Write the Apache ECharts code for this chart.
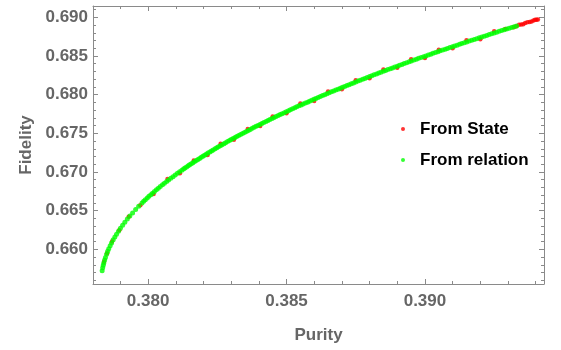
<!DOCTYPE html>
<html>
<head>
<meta charset="utf-8">
<script src="https://cdn.jsdelivr.net/npm/echarts@6/dist/echarts.min.js"></script>
<style>html,body{margin:0;padding:0;background:#fff}#c{width:561px;height:350px}</style>
</head>
<body>
<div id="c"></div>
<script>
// Series: From State (red)
const fromState = [
[0.37841,0.65840],[0.37852,0.65948],[0.37870,0.66102],[0.37896,0.66246],[0.37930,0.66420],[0.37972,0.66571],
[0.38020,0.66717],[0.38070,0.66908],[0.38115,0.66984],[0.38165,0.67150],[0.38215,0.67220],[0.38262,0.67364],
[0.38310,0.67417],[0.38360,0.67556],[0.38405,0.67595],[0.38450,0.67718],[0.38500,0.67759],[0.38550,0.67884],
[0.38600,0.67919],[0.38650,0.68040],[0.38700,0.68070],[0.38750,0.68186],[0.38800,0.68212],[0.38850,0.68324],
[0.38900,0.68347],[0.38950,0.68456],[0.39000,0.68475],[0.39050,0.68582],[0.39100,0.68599],[0.39150,0.68702],
[0.39200,0.68717],[0.39250,0.68819],[0.39290,0.68850],[0.39320,0.68870],[0.39330,0.68885],[0.39340,0.68904],
[0.39348,0.68908],[0.39355,0.68910],[0.39362,0.68925],[0.39370,0.68937],[0.39378,0.68938],[0.39385,0.68944],
[0.39392,0.68957],[0.39398,0.68968],[0.39403,0.68967],[0.39408,0.68972]
];
// Series: From relation (green)
const fromRelation = [
[0.37834,0.65724],[0.37836,0.65763],[0.37838,0.65795],[0.37840,0.65824],[0.37843,0.65862],[0.37846,0.65896],
[0.37850,0.65937],[0.37854,0.65974],[0.37858,0.66008],[0.37863,0.66047],[0.37868,0.66083],[0.37874,0.66123],
[0.37880,0.66161],[0.37886,0.66196],[0.37893,0.66235],[0.37900,0.66272],[0.37908,0.66313],[0.37916,0.66351],
[0.37925,0.66391],[0.37934,0.66430],[0.37944,0.66471],[0.37955,0.66515],[0.37966,0.66556],[0.37978,0.66600],
[0.37984,0.66621],[0.37990,0.66641],[0.37997,0.66663],[0.38003,0.66685],[0.38010,0.66706],[0.38016,0.66726],
[0.38023,0.66748],[0.38030,0.66770],[0.38037,0.66791],[0.38044,0.66812],[0.38052,0.66834],[0.38059,0.66855],
[0.38067,0.66876],[0.38074,0.66897],[0.38082,0.66919],[0.38090,0.66940],[0.38098,0.66962],[0.38106,0.66983],
[0.38114,0.67004],[0.38122,0.67024],[0.38128,0.67038],[0.38133,0.67052],[0.38139,0.67066],[0.38145,0.67080],
[0.38150,0.67093],[0.38156,0.67107],[0.38162,0.67121],[0.38168,0.67135],[0.38174,0.67149],[0.38180,0.67163],
[0.38186,0.67176],[0.38192,0.67190],[0.38198,0.67203],[0.38204,0.67217],[0.38210,0.67230],[0.38216,0.67244],
[0.38223,0.67258],[0.38229,0.67272],[0.38235,0.67285],[0.38242,0.67299],[0.38248,0.67312],[0.38254,0.67325],
[0.38261,0.67339],[0.38267,0.67352],[0.38274,0.67366],[0.38280,0.67379],[0.38287,0.67393],[0.38294,0.67406],
[0.38300,0.67420],[0.38307,0.67433],[0.38314,0.67446],[0.38320,0.67459],[0.38327,0.67472],[0.38334,0.67485],
[0.38341,0.67499],[0.38348,0.67512],[0.38355,0.67525],[0.38362,0.67538],[0.38369,0.67551],[0.38376,0.67564],
[0.38383,0.67577],[0.38390,0.67590],[0.38397,0.67602],[0.38404,0.67615],[0.38411,0.67627],[0.38418,0.67640],
[0.38426,0.67653],[0.38433,0.67666],[0.38440,0.67679],[0.38448,0.67692],[0.38455,0.67705],[0.38462,0.67717],
[0.38470,0.67730],[0.38477,0.67742],[0.38484,0.67754],[0.38492,0.67767],[0.38499,0.67779],[0.38507,0.67792],
[0.38514,0.67804],[0.38522,0.67817],[0.38530,0.67830],[0.38537,0.67842],[0.38545,0.67855],[0.38553,0.67867],
[0.38560,0.67879],[0.38568,0.67891],[0.38576,0.67903],[0.38583,0.67916],[0.38591,0.67928],[0.38599,0.67940],
[0.38606,0.67951],[0.38614,0.67963],[0.38622,0.67975],[0.38630,0.67988],[0.38638,0.68000],[0.38646,0.68012],
[0.38654,0.68024],[0.38662,0.68036],[0.38670,0.68048],[0.38678,0.68059],[0.38686,0.68071],[0.38694,0.68083],
[0.38702,0.68094],[0.38710,0.68106],[0.38718,0.68118],[0.38726,0.68129],[0.38734,0.68141],[0.38742,0.68152],
[0.38750,0.68164],[0.38758,0.68175],[0.38766,0.68187],[0.38775,0.68198],[0.38783,0.68210],[0.38791,0.68222],
[0.38800,0.68233],[0.38808,0.68245],[0.38816,0.68256],[0.38825,0.68268],[0.38833,0.68279],[0.38841,0.68290],
[0.38850,0.68302],[0.38858,0.68313],[0.38866,0.68324],[0.38875,0.68335],[0.38883,0.68346],[0.38891,0.68357],
[0.38900,0.68368],[0.38908,0.68379],[0.38917,0.68390],[0.38925,0.68402],[0.38934,0.68413],[0.38943,0.68424],
[0.38951,0.68436],[0.38960,0.68447],[0.38969,0.68458],[0.38977,0.68469],[0.38986,0.68480],[0.38995,0.68491],
[0.39003,0.68501],[0.39012,0.68512],[0.39021,0.68523],[0.39029,0.68534],[0.39038,0.68545],[0.39047,0.68556],
[0.39055,0.68566],[0.39064,0.68577],[0.39073,0.68588],[0.39081,0.68598],[0.39090,0.68609],[0.39099,0.68619],
[0.39107,0.68630],[0.39116,0.68640],[0.39125,0.68650],[0.39133,0.68661],[0.39142,0.68671],[0.39151,0.68682],
[0.39160,0.68692],[0.39169,0.68703],[0.39178,0.68714],[0.39187,0.68724],[0.39196,0.68735],[0.39205,0.68745],
[0.39214,0.68756],[0.39223,0.68766],[0.39232,0.68776],[0.39241,0.68787],[0.39250,0.68797],[0.39259,0.68807],
[0.39268,0.68818],[0.39277,0.68828],[0.39286,0.68838],[0.39295,0.68848],[0.39304,0.68858],[0.39313,0.68868],
[0.39322,0.68878],[0.39331,0.68888]
];
// Ticks
const xMajorTicks = [0.380, 0.385, 0.390];
const xMinorTicks = [0.379,0.381,0.382,0.383,0.384,0.386,0.387,0.388,0.389,0.391,0.392,0.393,0.394];
const yMajorTicks = [0.660, 0.665, 0.670, 0.675, 0.680, 0.685, 0.690];
const yMinorTicks = [0.656,0.657,0.658,0.659,0.661,0.662,0.663,0.664,0.666,0.667,0.668,0.669,0.671,0.672,0.673,0.674,
  0.676,0.677,0.678,0.679,0.681,0.682,0.683,0.684,0.686,0.687,0.688,0.689,0.691];
const xRange = [0.37801, 0.3943];
const yRange = [0.65552, 0.69146];

const frameColor = '#8a8a8a';
const labelColor = '#666666';
const font = 'Liberation Sans, Arial, sans-serif';

function xAxisDef(pos, ticks, len, labels, line, name) {
  return {
    type: 'value', position: pos, min: xRange[0], max: xRange[1],
    name: name || '', nameLocation: 'middle', nameGap: 43,
    nameTextStyle: {color: labelColor, fontSize: 17, fontWeight: 'bold', fontFamily: font},
    splitLine: {show: false},
    axisLine: {show: line, onZero: false, lineStyle: {color: frameColor, width: 1}},
    axisTick: {show: true, inside: true, length: len, customValues: ticks, lineStyle: {color: frameColor, width: 1}},
    axisLabel: {show: labels, customValues: ticks, margin: 9, color: labelColor, fontSize: 17, fontWeight: 'bold',
      fontFamily: font, formatter: v => v.toFixed(3)}
  };
}
function yAxisDef(pos, ticks, len, labels, line, name) {
  return {
    type: 'value', position: pos, min: yRange[0], max: yRange[1],
    name: name || '', nameLocation: 'middle', nameGap: 58, nameRotate: 90,
    nameTextStyle: {color: labelColor, fontSize: 17, fontWeight: 'bold', fontFamily: font},
    splitLine: {show: false},
    axisLine: {show: line, onZero: false, lineStyle: {color: frameColor, width: 1}},
    axisTick: {show: true, inside: true, length: len, customValues: ticks, lineStyle: {color: frameColor, width: 1}},
    axisLabel: {show: labels, customValues: ticks, margin: 5, color: labelColor, fontSize: 17, fontWeight: 'bold',
      fontFamily: font, formatter: v => v.toFixed(3)}
  };
}

const chart = echarts.init(document.getElementById('c'), null, {renderer: 'canvas'});
chart.setOption({
  animation: false,
  backgroundColor: '#fff',
  grid: {left: 93, right: 17, top: 6, bottom: 66, containLabel: false},
  xAxis: [
    xAxisDef('bottom', xMajorTicks, 5, true, true, 'Purity'),
    xAxisDef('bottom', xMinorTicks, 3, false, false),
    xAxisDef('top', xMajorTicks, 5, false, true),
    xAxisDef('top', xMinorTicks, 3, false, false)
  ],
  yAxis: [
    yAxisDef('left', yMajorTicks, 5, true, true, 'Fidelity'),
    yAxisDef('left', yMinorTicks, 3, false, false),
    yAxisDef('right', yMajorTicks, 5, false, true),
    yAxisDef('right', yMinorTicks, 3, false, false)
  ],
  legend: {
    orient: 'vertical', left: 401, top: 119, padding: 0, itemWidth: 24, itemHeight: 4, itemGap: 11,
    icon: 'circle',
    textStyle: {color: '#000', fontSize: 17, fontWeight: 'bold', fontFamily: font, lineHeight: 20},
    data: ['From State', 'From relation']
  },
  series: [
    {name: 'From State', type: 'scatter', data: fromState, symbolSize: 4.5, itemStyle: {color: '#ff0000'}, xAxisIndex: 0, yAxisIndex: 0},
    {name: 'From relation', type: 'scatter', data: fromRelation, symbolSize: 5, itemStyle: {color: '#00ff00'}, xAxisIndex: 0, yAxisIndex: 0}
  ]
});
</script>
</body>
</html>
